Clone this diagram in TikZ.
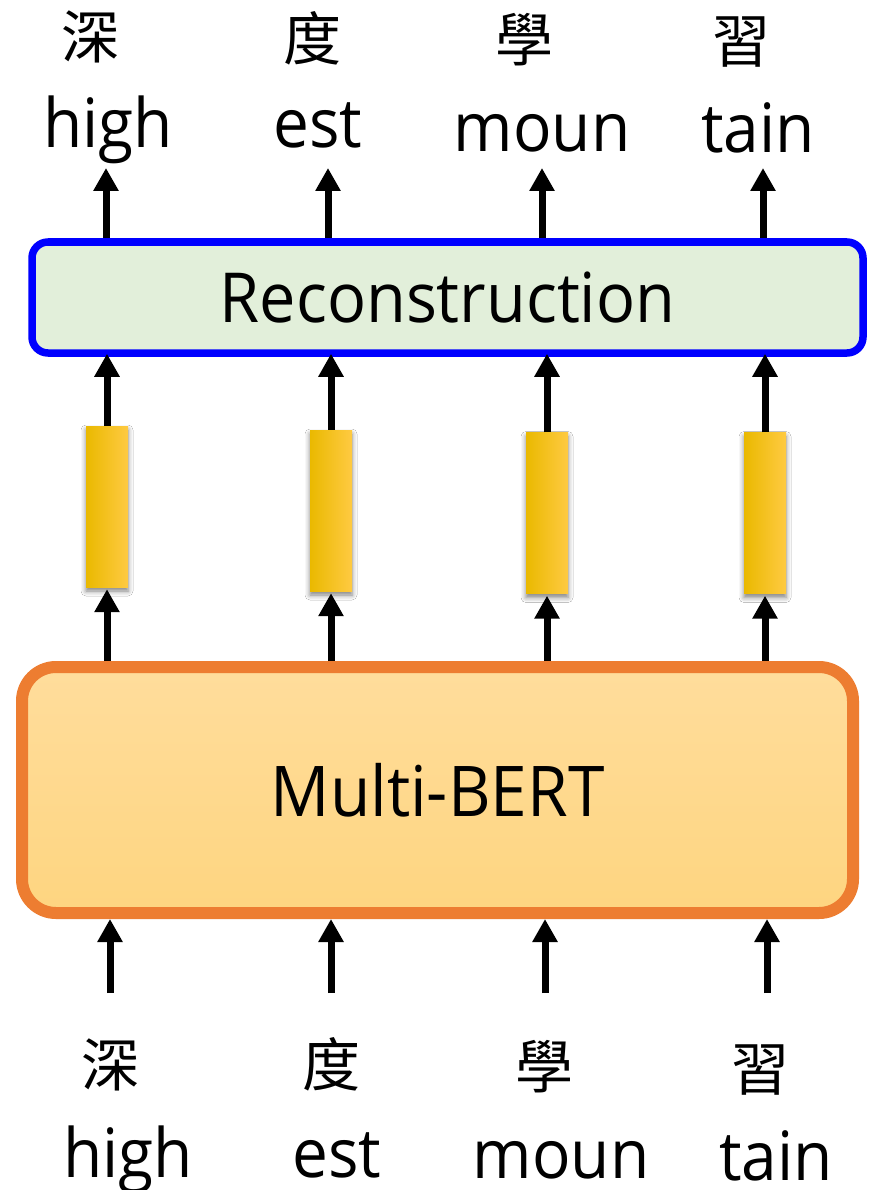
\documentclass[tikz,border=0pt]{standalone}
\usepackage{fontspec}
\setmainfont{Open Sans}[FakeStretch=0.94]
\newfontfamily\cjk{Noto Sans CJK TC}
\usetikzlibrary{arrows.meta,shadows.blur}

\definecolor{recblue}{RGB}{0,0,255}
\definecolor{recfill}{RGB}{226,239,218}
\definecolor{mborange}{RGB}{237,125,49}
\definecolor{mbtop}{RGB}{255,221,156}
\definecolor{mbbot}{RGB}{254,213,128}
\definecolor{barL}{RGB}{234,185,0}
\definecolor{barM}{RGB}{255,194,0}
\definecolor{barR}{RGB}{255,202,66}

\begin{document}
\begin{tikzpicture}[x=1pt,y=-1pt,
  lbl/.style={font=\fontsize{68}{80}\selectfont, inner sep=0pt, anchor=base},
  han/.style={font=\cjk\fontsize{58}{64}\selectfont, inner sep=0pt},
  arr/.style={line width=7pt, -{Triangle[width=24pt,length=23pt]}},
  vecbar/.style={minimum width=42pt, minimum height=161pt, inner sep=0pt,
    left color=barL, middle color=barM, right color=barR,
    blur shadow={shadow xshift=0pt, shadow yshift=-4pt,
      shadow blur radius=5pt, shadow opacity=50}},
  recbox/.style={draw=recblue, line width=7.5pt, fill=recfill,
    rounded corners=16pt, minimum width=831pt, minimum height=111pt,
    inner sep=0pt, font=\fontsize{69}{80}\selectfont},
  mbbox/.style={draw=mborange, line width=12pt, top color=mbtop,
    bottom color=mbbot, rounded corners=34pt, minimum width=831pt,
    minimum height=246pt, inner sep=0pt, font=\fontsize{70}{80}\selectfont},
]
% page
\fill[white] (0,0) rectangle (877,1190);
\useasboundingbox (0,0) rectangle (877,1190);

% main blocks
\node[recbox] (rec) at (447.5,297.5) {Reconstruction};
\node[mbbox] (mb) at (437.5,790) {Multi-BERT};

% hidden vectors
\node[vecbar] (b1) at (107,506.5) {};
\node[vecbar] (b2) at (331,510.5) {};
\node[vecbar] (b3) at (547,513) {};
\node[vecbar] (b4) at (765,513) {};

% output tokens
\node[han] (tc1) at (90,37) {深};
\node[han] (tc2) at (312,38) {度};
\node[han] (tc3) at (524,40) {學};
\node[han] (tc4) at (741,42) {習};
\node[lbl] (te1) at (108,148) {high};
\node[lbl] (te2) at (318,148) {est};
\node[lbl] (te3) at (542,152) {moun};
\node[lbl] (te4) at (758,153) {tain};

% input tokens
\node[han] (bc1) at (110,1065) {深};
\node[han] (bc2) at (331,1064) {度};
\node[han] (bc3) at (544,1067) {學};
\node[han] (bc4) at (760,1070) {習};
\node[lbl] (be1) at (128,1177) {high};
\node[lbl] (be2) at (337,1177) {est};
\node[lbl] (be3) at (561,1178) {moun};
\node[lbl] (be4) at (776,1180) {tain};

% arrow ends
\coordinate (ta1) at (106,168);
\coordinate (ta2) at (328,168);
\coordinate (ta3) at (542,168);
\coordinate (ta4) at (763,168);
\coordinate (ba1) at (110,993);
\coordinate (ba2) at (331,993);
\coordinate (ba3) at (545,993);
\coordinate (ba4) at (767,993);

% Reconstruction -> outputs
\foreach \i in {1,...,4}
  \draw[arr] (rec.north -| ta\i) -- (ta\i);
% vectors -> Reconstruction
\foreach \i in {1,...,4}
  \draw[arr, shorten >=-3pt] (b\i.north) -- (b\i |- rec.south);
% Multi-BERT -> vectors
\foreach \i in {1,...,4}
  \draw[arr, shorten >=2pt] (mb.north -| b\i) -- (b\i.south);
% inputs -> Multi-BERT
\foreach \i in {1,...,4}
  \draw[arr] (ba\i) -- (ba\i |- mb.south);
\end{tikzpicture}
\end{document}
